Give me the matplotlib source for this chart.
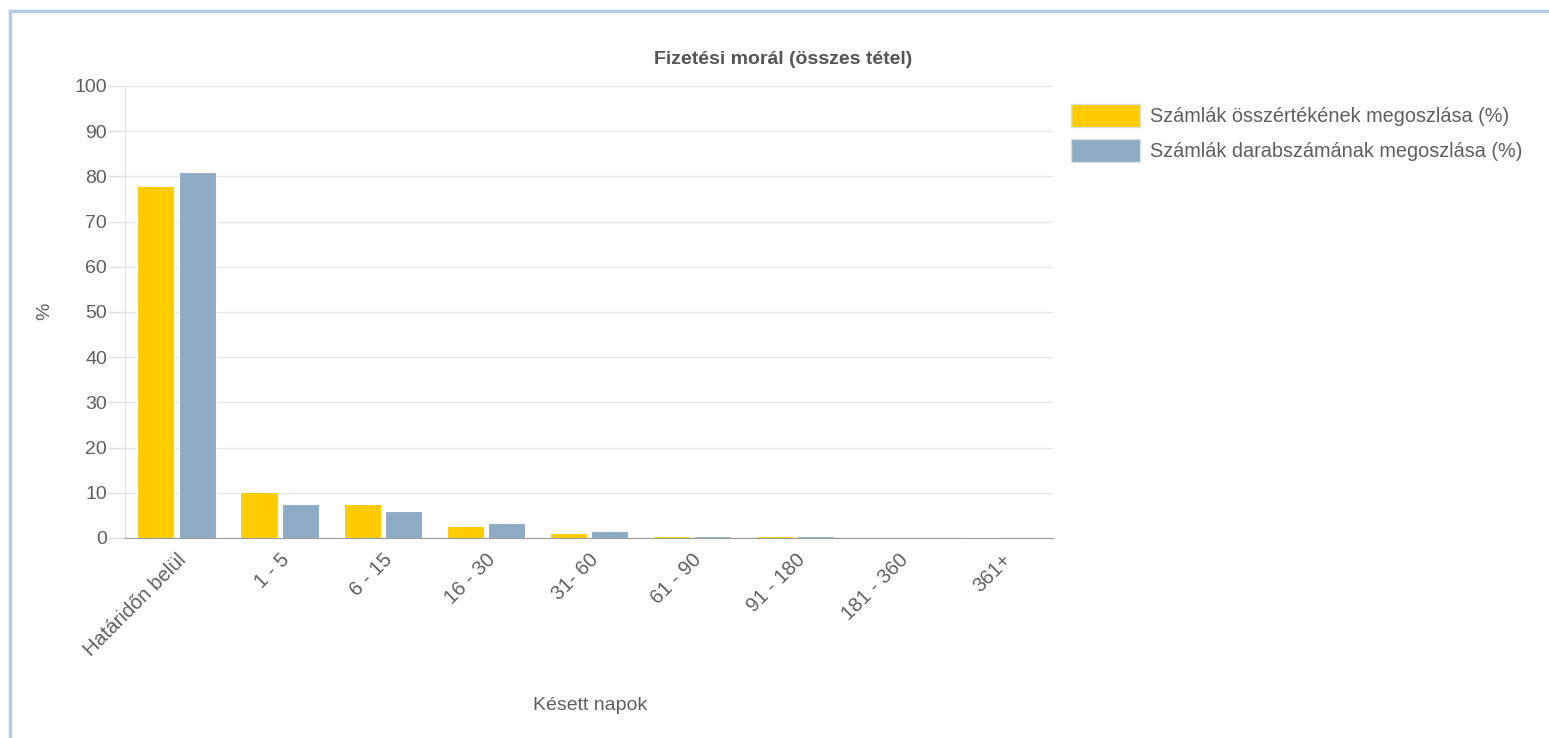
import matplotlib
matplotlib.use("Agg")
import matplotlib.pyplot as plt
import numpy as np
from matplotlib.patches import Patch
from matplotlib.lines import Line2D

plt.rcParams["font.family"] = ["Liberation Sans", "DejaVu Sans"]

categories = ["Határidőn belül", "1 - 5", "6 - 15", "16 - 30", "31- 60",
              "61 - 90", "91 - 180", "181 - 360", "361+"]
ertek = [77.9, 10.2, 7.6, 2.6, 1.1, 0.45, 0.4, 0.1, 0.15]
darab = [81.0, 7.5, 6.0, 3.4, 1.5, 0.5, 0.45, 0.05, 0.03]
series_names = ["Számlák összértékének megoszlása (%)",
                "Számlák darabszámának megoszlása (%)"]

yellow = "#ffcc00"
blue = "#8eabc6"
txt = "#5f5f5f"

W, H = 1549, 738
fig = plt.figure(figsize=(W / 100, H / 100), dpi=100)
ax = fig.add_axes([125 / W, 1 - 538 / H, (1053 - 125) / W, (538 - 86) / H])

x = np.arange(len(categories))
bw = 0.36
ax.bar(x - 0.2, ertek, bw, color=yellow, edgecolor="white", linewidth=0.8, zorder=3)
ax.bar(x + 0.2, darab, bw, color=blue, edgecolor="white", linewidth=0.8, zorder=3)

ax.set_xlim(-0.5, len(categories) - 0.5)
ax.set_ylim(0, 100)
ax.set_yticks(range(0, 101, 10))
ax.yaxis.grid(True, color="#e6e6e6", linewidth=1, zorder=0)
ax.tick_params(axis="y", colors="#e0e0e0", labelcolor=txt, labelsize=14, length=12, width=1, pad=1)
ax.tick_params(axis="x", length=0, labelcolor=txt, labelsize=14.5, pad=9)
ax.set_xticks(x)
ax.set_xticklabels(categories, rotation=45, ha="right", rotation_mode="anchor")

for s in ["top", "right"]:
    ax.spines[s].set_visible(False)
ax.spines["left"].set_color("#e0e0e0")
ax.spines["bottom"].set_color("#999999")

fig.text(783 / W, 1 - 59 / H, "Fizetési morál (összes tétel)", ha="center", va="center",
         fontsize=14, fontweight="bold", color="#555555")
fig.text(45 / W, 1 - 311 / H, "%", rotation=90, ha="center", va="center", color=txt, fontsize=14)
fig.text(590 / W, 1 - 706 / H, "Késett napok", ha="center", va="center", color=txt, fontsize=14)

handles = [Patch(facecolor=yellow, edgecolor="#dddddd"), Patch(facecolor=blue, edgecolor="#dddddd")]
leg = fig.legend(handles, series_names, loc="upper left", bbox_to_anchor=(1053 / W, 1 - 86 / H),
                 frameon=False, fontsize=14.3, labelcolor=txt, handlelength=3.5, handleheight=1.4,
                 handletextpad=0.5, labelspacing=0.6, borderpad=0.4)

# light blue frame on top and left
fig.add_artist(Line2D([10 / W, 1], [1 - 11 / H, 1 - 11 / H], color="#b4cbe0", linewidth=2.5))
fig.add_artist(Line2D([10 / W, 10 / W], [0, 1 - 11 / H], color="#b4cbe0", linewidth=2.5))

fig.savefig("out.png", dpi=100, facecolor="white")
